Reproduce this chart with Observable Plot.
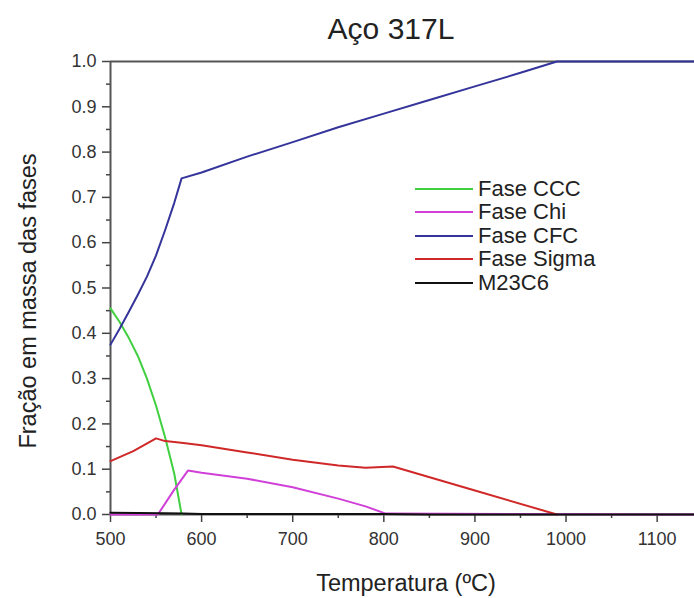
<!DOCTYPE html>
<html><head><meta charset="utf-8">
<script src="https://cdn.jsdelivr.net/npm/d3@7"></script>
<script src="https://cdn.jsdelivr.net/npm/@observablehq/plot@0.6"></script>
<style>
body{margin:0;background:#fff;font-family:"Liberation Sans",Arial,sans-serif;}
#wrap{position:relative;width:694px;height:598px;}
#legend{position:absolute;left:415px;top:177px;font-size:22px;color:#222;}
.row{height:23.5px;display:flex;align-items:center;}
.sw{width:58px;height:2px;margin-right:5px;}
</style></head>
<body><div id="wrap"><div id="legend"></div></div>
<script>
const series = ["Fase CCC","Fase Chi","Fase CFC","Fase Sigma","M23C6"];
const colors = ["#3fcf3f","#d040d8","#34349a","#d02828","#111111"];

const cccT = [500,510,520,530,540,550,560,570,578];
const cccV = [0.455,0.425,0.39,0.35,0.30,0.24,0.17,0.09,0.0];

const chiT = [500,552,570,585,600,650,700,750,780,802,1140];
const chiV = [0,0,0.055,0.097,0.092,0.079,0.06,0.035,0.018,0.002,0];

const cfcT = [500,510,520,530,540,550,560,570,578,600,650,700,750,800,850,900,950,990,1140];
const cfcV = [0.375,0.41,0.447,0.485,0.525,0.572,0.628,0.688,0.742,0.755,0.79,0.822,0.855,0.885,0.915,0.945,0.975,1.0,1.0];

const sigT = [500,525,550,560,580,600,650,700,750,780,810,900,990];
const sigV = [0.118,0.14,0.168,0.162,0.158,0.153,0.137,0.121,0.108,0.103,0.106,0.053,0.0];

const m23T = [500,560,580,600,800,850,1140];
const m23V = [0.004,0.003,0.002,0.001,0.001,0,0];

const xMajor = [500,600,700,800,900,1000,1100];
const xMinor = [550,650,750,850,950,1050];
const yMajor = [0,0.1,0.2,0.3,0.4,0.5,0.6,0.7,0.8,0.9,1.0];
const yMinor = [0.05,0.15,0.25,0.35,0.45,0.55,0.65,0.75,0.85,0.95];

const title = "Aço 317L";
const xLabel = "Temperatura (ºC)";
const yLabel = "Fração em massa das fases";

const pairs = [[cccT,cccV],[chiT,chiV],[cfcT,cfcV],[sigT,sigV],[m23T,m23V]];
const rows = [];
pairs.forEach(([t,v],i)=>t.forEach((x,j)=>rows.push({s:series[i],t:x,v:v[j]})));

const chart = Plot.plot({
  width:694, height:598,
  marginTop:61, marginLeft:110, marginRight:0, marginBottom:84,
  style:{fontFamily:"Liberation Sans, Arial, sans-serif", fontSize:"18px", color:"#333", background:"#fff"},
  x:{domain:[500,1141]},
  y:{domain:[0,1]},
  color:{domain:series, range:colors},
  marks:[
    Plot.axisX({ticks:xMajor, tickSize:8, tickPadding:10, tickFormat:d=>String(d), label:null, stroke:"#444", strokeWidth:1.5, fontSize:18}),
    Plot.axisX({ticks:xMinor, tickSize:4, text:null, label:null, stroke:"#444", strokeWidth:1.5}),
    Plot.axisY({ticks:yMajor, tickSize:8, tickPadding:6, tickFormat:d3.format(".1f"), label:null, stroke:"#444", strokeWidth:1.5, fontSize:18}),
    Plot.axisY({ticks:yMinor, tickSize:4, text:null, label:null, stroke:"#444", strokeWidth:1.5}),
    Plot.ruleY([1], {stroke:"#555", strokeWidth:2}),
    Plot.ruleX([500], {stroke:"#555", strokeWidth:2}),
    Plot.ruleY([0], {stroke:"#555", strokeWidth:2}),
    Plot.line(rows, {x:"t", y:"v", z:"s", stroke:"s", strokeWidth:2})
  ]
});
const svg = d3.select(chart);
svg.append("text").attr("x",391).attr("y",39).attr("text-anchor","middle")
  .style("font-size","30px").attr("fill","#222").text(title);
svg.append("text").attr("x",406).attr("y",591).attr("text-anchor","middle")
  .style("font-size","23.5px").attr("fill","#222").text(xLabel);
svg.append("text").attr("transform","translate(36,301) rotate(-90)").attr("text-anchor","middle")
  .style("font-size","23.5px").attr("fill","#222").text(yLabel);
document.getElementById("wrap").appendChild(chart);
chart.style.position="absolute"; chart.style.left="0"; chart.style.top="0";
const lg = document.getElementById("legend"); lg.style.zIndex=2;
series.forEach((s,i)=>{
  const r=document.createElement("div"); r.className="row";
  r.innerHTML=`<div class="sw" style="background:${colors[i]}"></div><span>${s}</span>`;
  lg.appendChild(r);
});
</script></body></html>
